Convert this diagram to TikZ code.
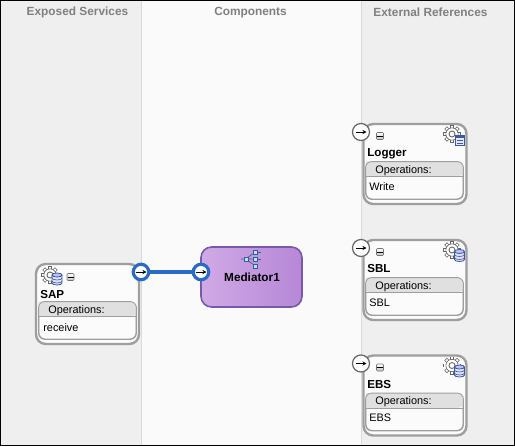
\documentclass[tikz,border=0pt]{standalone}
\usepackage{fontspec}
\setmainfont{Liberation Sans}
\usepackage{xcolor}
\usetikzlibrary{arrows.meta, positioning, shapes.geometric}
\definecolor{lane}{RGB}{239,239,239}
\definecolor{midlane}{RGB}{250,250,250}
\definecolor{laneline}{RGB}{218,218,218}
\definecolor{headtext}{RGB}{128,128,128}
\definecolor{cardline}{RGB}{158,158,158}
\definecolor{wireblue}{RGB}{42,106,196}
\definecolor{medline}{RGB}{120,88,170}
\definecolor{medlight}{RGB}{208,170,230}
\definecolor{meddark}{RGB}{182,135,214}
\definecolor{iconblue}{RGB}{60,90,150}

\begin{document}
\begin{tikzpicture}[x=0.02cm, y=-0.02cm, font=\fontsize{6.2}{7}\selectfont,
  lanehead/.style={font=\fontsize{6.75}{8}\selectfont\bfseries, text=headtext},
  card/.style={rectangle, rounded corners=5.5pt, draw=cardline, line width=1.35pt, fill=white!97!gray,
               minimum width=2.06cm, minimum height=1.6cm},
  opsbox/.style={rectangle, rounded corners=3.5pt, draw=cardline, line width=0.5pt,
               minimum width=1.94cm, minimum height=0.74cm},
  cardname/.style={font=\fontsize{6.6}{8}\selectfont\bfseries, inner sep=0pt},
  optext/.style={inner sep=0pt},
  portin/.style={circle, draw=black!60, line width=0.7pt, fill=white, minimum size=0.34cm, inner sep=0pt},
  portblue/.style={circle, draw=wireblue, line width=1.8pt, fill=white, minimum size=0.31cm, inner sep=0pt},
  tiny arrow/.style={-{Stealth[length=0.8mm,width=0.8mm]}, line width=0.45pt, black},
  wire/.style={wireblue, line width=1.8pt},
  minusbtn/.style={rectangle, rounded corners=0.5pt, draw=black!55, line width=0.3pt, top color=white, bottom color=black!25,
               minimum width=0.14cm, minimum height=0.14cm, inner sep=0pt},
  medbox/.style={rectangle, rounded corners=6pt, draw=medline, line width=0.9pt, left color=medlight, right color=meddark,
               minimum width=2.02cm, minimum height=1.2cm},
  medsq/.style={rectangle, draw=iconblue, line width=0.4pt, fill=white!70!cyan, minimum size=0.08cm, inner sep=0pt}]

  % lanes
  \path[use as bounding box] (0,0) rectangle (515,447);
  \fill[white] (0,0) rectangle (515,447);
  \fill[lane] (0,0) rectangle (515,446);
  \fill[midlane] (141,0) rectangle (361,446);
  \draw[laneline, line width=0.4pt] (141,1) -- (141,445);
  \draw[laneline, line width=0.4pt] (361,1) -- (361,445);
  \draw[black, line width=0.6pt] (0,0.5) -- (515,0.5);
  \draw[black, line width=0.6pt] (0,445.5) -- (515,445.5);
  \draw[black, line width=0.6pt] (0.5,0) -- (0.5,446);
  \draw[black, line width=0.6pt] (514.5,0) -- (514.5,446);
  \node[lanehead] (exposed) at (77.5,12.5) {Exposed Services};
  \node[lanehead] (comps) at (250.5,12.5) {Components};
  \node[lanehead] (extrefs) at (430.5,12.5) {External References};

  % gear icon
  \tikzset{gearicon/.pic={
    \foreach \a in {0,45,...,315}
      \draw[black!60, line width=2.1pt, rotate=\a] (0,-5) -- (0,-9);
    \foreach \a in {0,45,...,315}
      \draw[white, line width=1.3pt, rotate=\a] (0,-5) -- (0,-8.3);
    \draw[black!60, line width=0.5pt, fill=white] (0,0) circle (6);
    \fill[white] (0,0) circle (5.7);
    \draw[black!60, line width=0.5pt] (0,0) circle (3);
  }}
  \tikzset{dbicon/.pic={
    \draw[iconblue, line width=0.45pt, fill=blue!12] (-5,-4) -- (-5,4) arc[x radius=5, y radius=-2, start angle=180, end angle=360] -- (5,-4);
    \draw[iconblue, line width=0.45pt, fill=blue!25] (0,-4) ellipse (5 and 2);
    \draw[iconblue, line width=0.35pt] (-5,-1) arc[x radius=5, y radius=-2, start angle=180, end angle=360];
    \draw[iconblue, line width=0.35pt] (-5,2) arc[x radius=5, y radius=-2, start angle=180, end angle=360];
  }}
  \tikzset{pageicon/.pic={
    \draw[iconblue, line width=0.5pt, fill=blue!10] (-4.5,-5) rectangle (4.5,5);
    \fill[iconblue] (-4.5,-5) rectangle (4.5,-2);
    \draw[iconblue, line width=0.4pt] (-3,0.5) -- (3,0.5) (-3,3) -- (3,3);
  }}

  % exposed service
  \node[card] (sap) at (87.5,304) {};
  \node[opsbox] (sapops) at (87.5,320.5) {};
  \fill[black!12, rounded corners=3.2pt] (sapops.north west) -- (sapops.north east) -- ([yshift=-15*0.02cm]sapops.north east) [sharp corners] -- ([yshift=-15*0.02cm]sapops.north west) -- cycle;
  \draw[cardline, line width=0.5pt] ([yshift=-15*0.02cm]sapops.north west) -- ([yshift=-15*0.02cm]sapops.north east);
  \draw[cardline, line width=0.5pt, rounded corners=3.5pt] (sapops.north west) rectangle (sapops.south east);
  \node[cardname, anchor=base west] (sapname) at (40,298) {SAP};
  \node[optext, anchor=base west] (sapophead) at (48,313) {Operations:};
  \node[optext, anchor=base west] (saprecv) at (43,331) {receive};
  \pic at (50,275) {gearicon};
  \pic at (57,279) {dbicon};
  \node[minusbtn] (sapmin) at (70.5,277) {};
  \draw[black, line width=0.4pt] (67.5,277) -- (73.5,277);

  % component
  \node[medbox] (med) at (251.5,277) {};
  \node[cardname, font=\fontsize{6.7}{8}\selectfont\bfseries] (medname) at (252,277) {Mediator1};
  \node[medsq] (medroot) at (246,259) {};
  \node[medsq] (meda) at (255,252) {};
  \node[medsq] (medb) at (255,259) {};
  \node[medsq] (medc) at (255,266) {};
  \draw[iconblue, line width=0.4pt] (241,259) -- (medroot) (medroot) -- (meda) (medroot) -- (medb) (medroot) -- (medc);
  \draw[iconblue, line width=0.4pt] (meda) -- (261,252) (medb) -- (261,259);

  % external references
  \foreach \yy/\name/\id/\opname in {164/Logger/logger/Write, 280/SBL/sbl/SBL, 395.5/EBS/ebs/EBS} {
    \node[card] (\id) at (415,\yy) {};
    \node[opsbox] (\id ops) at (414.5,\yy+16.5) {};
    \fill[black!12, rounded corners=3.2pt] (\id ops.north west) -- (\id ops.north east) -- ([yshift=-15*0.02cm]\id ops.north east) [sharp corners] -- ([yshift=-15*0.02cm]\id ops.north west) -- cycle;
    \draw[cardline, line width=0.5pt] ([yshift=-15*0.02cm]\id ops.north west) -- ([yshift=-15*0.02cm]\id ops.north east);
    \draw[cardline, line width=0.5pt, rounded corners=3.5pt] (\id ops.north west) rectangle (\id ops.south east);
    \node[cardname, anchor=base west] (\id name) at (367,\yy-7.5) {\name};
    \node[optext, anchor=base west] (\id head) at (375,\yy+9) {Operations:};
    \node[optext, anchor=base west] (\id op) at (369,\yy+26) {\opname};
    \node[minusbtn] (\id min) at (380,\yy-28) {};
    \draw[black, line width=0.4pt] (377,\yy-28) -- (383,\yy-28);
    \pic at (452,\yy-30) {gearicon};
    \node[portin] (\id in) at (361,\yy-32) {};
    \draw[tiny arrow] ([xshift=-0.11cm]\id in.center) -- ([xshift=0.11cm]\id in.center);
  }
  \pic at (459.5,140) {pageicon};
  \pic at (459.5,255.5) {dbicon};
  \pic at (459.5,371) {dbicon};

  % wire
  \node[portblue] (sapout) at (141,272) {};
  \node[portblue] (medin) at (201,272) {};
  \draw[wire] (sapout) -- (medin);
  \draw[tiny arrow] ([xshift=-0.11cm]sapout.center) -- ([xshift=0.11cm]sapout.center);
  \draw[tiny arrow] ([xshift=-0.11cm]medin.center) -- ([xshift=0.11cm]medin.center);
\end{tikzpicture}
\end{document}
